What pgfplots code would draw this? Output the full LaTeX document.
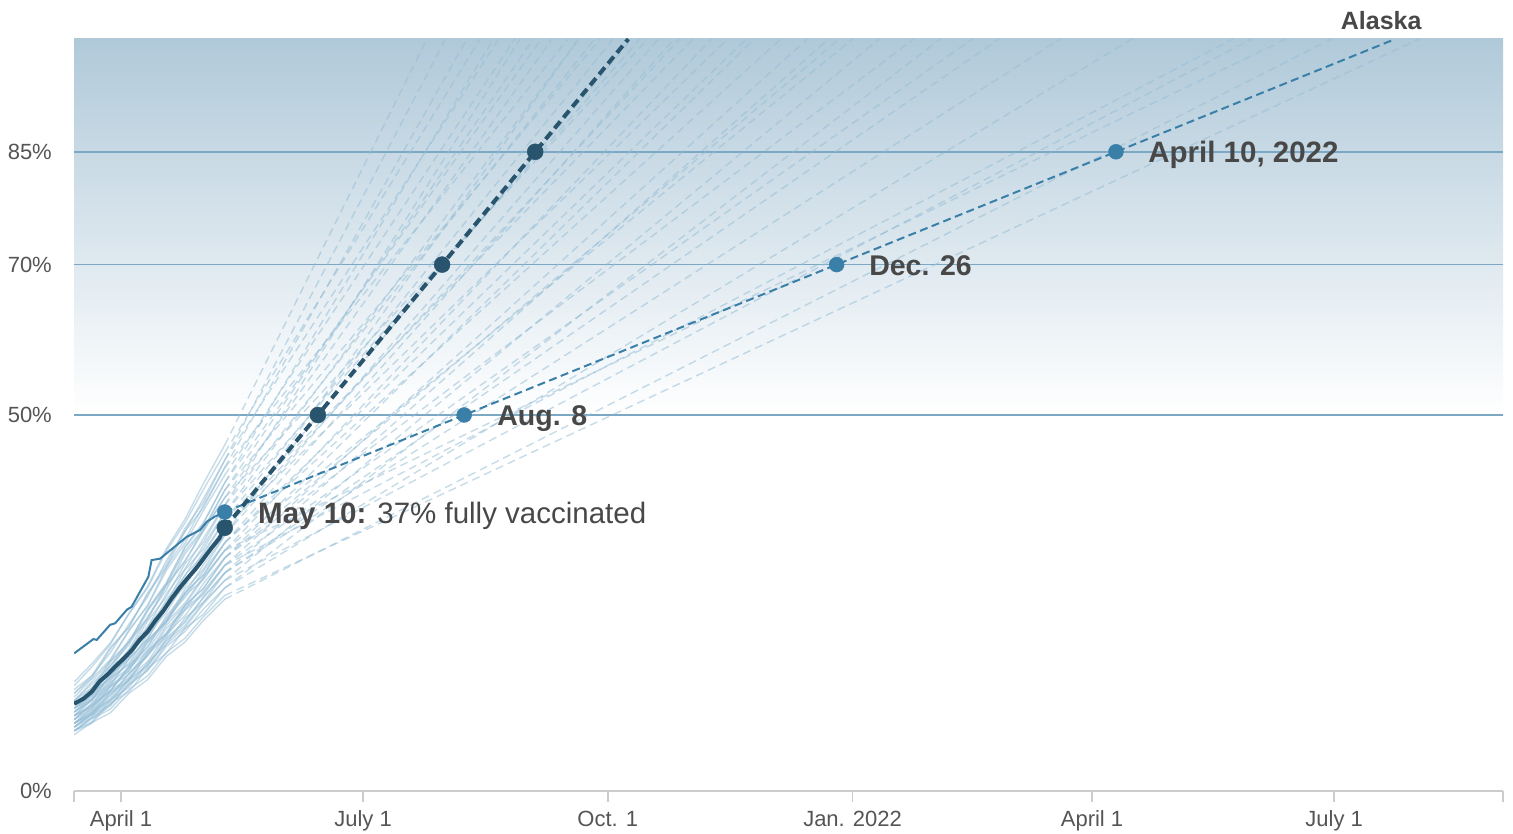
\documentclass[border=0pt]{standalone}
\usepackage{pgfplots}
\pgfplotsset{compat=1.18}
\usepackage{fontspec}
\setmainfont{Liberation Sans}
\definecolor{histc}{RGB}{150,190,214}
\definecolor{projc}{RGB}{150,190,214}
\definecolor{usc}{RGB}{40,84,109}
\definecolor{akc}{RGB}{58,127,168}
\definecolor{gridc}{RGB}{125,168,196}
\definecolor{bgtop}{RGB}{176,201,217}
\definecolor{axisc}{RGB}{204,204,204}
\definecolor{textc}{RGB}{72,72,72}
\definecolor{tickc}{RGB}{85,85,85}
\pgfplotsset{
 hist/.style={no marks, line width=1.4bp, color=histc, opacity=0.55},
 proj/.style={no marks, line width=1.4bp, color=projc, opacity=0.55, dash pattern=on 8bp off 5bp},
}
\begin{document}
\begin{tikzpicture}
\begin{axis}[
 scale only axis, width=1429bp, height=752bp,
 xmin=72.33, xmax=609.5, ymin=0, ymax=100,
 clip mode=individual,
 axis x line*=bottom, axis y line*=left,
 y axis line style={draw=none},
 x axis line style={draw=axisc, line width=2bp},
 tick align=outside, major tick length=11bp,
 xtick={72.33,90,181,273,365,455,546,609.5},
 xticklabels={,April 1,July 1,Oct. 1,Jan. 2022,April 1,July 1,},
 xtick style={draw=axisc, line width=1.5bp},
 ytick={0,50,70,85}, yticklabels={0\%,50\%,70\%,85\%},
 ytick style={draw=none},
 tick label style={font=\fontsize{22bp}{26bp}\selectfont, text=tickc},
 yticklabel style={anchor=east, inner sep=0pt, xshift=-11bp},
 xticklabel style={anchor=base, inner sep=0pt, yshift=-25bp},
]
\path[top color=bgtop, bottom color=white] (axis cs:72.33,50) rectangle (axis cs:609.5,100);
\coordinate (ll) at (rel axis cs:0,0);
% grid lines
\addplot[gridc, line width=1.5bp, no marks] coordinates {(72.33,50) (609.5,50)};
\addplot[gridc, line width=1.5bp, no marks] coordinates {(72.33,70) (609.5,70)};
\addplot[gridc, line width=1.5bp, no marks] coordinates {(72.33,85) (609.5,85)};
% state histories
\addplot[hist] coordinates {(72.4,14)(79,16.5)(86,19.5)(93,23.6)(100,27.2)(107,32.2)(114,36.1)(121,40.9)(129,46)};
\addplot[hist] coordinates {(72.4,13)(79,15.0)(86,18.9)(93,21.8)(100,26.3)(107,30.1)(114,34.9)(121,38.4)(129,44)};
\addplot[hist] coordinates {(72.4,12)(79,14.5)(86,17.3)(93,21.3)(100,24.7)(107,29.7)(114,33.4)(121,38.0)(129,43)};
\addplot[hist] coordinates {(72.4,14.5)(79,16.9)(86,19.7)(93,23.6)(100,27.0)(107,31.9)(114,35.6)(121,40.1)(129,45)};
\addplot[hist] coordinates {(72.4,11)(79,12.8)(86,16.7)(93,19.4)(100,23.9)(107,27.5)(114,32.3)(121,35.6)(129,41)};
\addplot[hist] coordinates {(72.4,12.5)(79,14.9)(86,17.5)(93,21.4)(100,24.6)(107,29.3)(114,32.9)(121,37.3)(129,42)};
\addplot[hist] coordinates {(72.4,10.5)(79,12.3)(86,16.1)(93,18.8)(100,23.2)(107,26.7)(114,31.5)(121,34.7)(129,40)};
\addplot[hist] coordinates {(72.4,11.5)(79,13.7)(86,16.2)(93,19.8)(100,22.8)(107,27.2)(114,30.5)(121,34.6)(129,39)};
\addplot[hist] coordinates {(72.4,13.5)(79,15.3)(86,19.1)(93,21.8)(100,26.2)(107,29.7)(114,34.5)(121,37.7)(129,43)};
\addplot[hist] coordinates {(72.4,10)(79,12.2)(86,14.6)(93,18.1)(100,21.0)(107,25.4)(114,28.6)(121,32.7)(129,37)};
\addplot[hist] coordinates {(72.4,11)(79,12.6)(86,16.2)(93,18.5)(100,22.6)(107,25.8)(114,30.2)(121,33.1)(129,38)};
\addplot[hist] coordinates {(72.4,9.5)(79,11.7)(86,14.0)(93,17.5)(100,20.3)(107,24.6)(114,27.8)(121,31.8)(129,36)};
\addplot[hist] coordinates {(72.4,10)(79,11.5)(86,14.8)(93,17.0)(100,20.8)(107,23.7)(114,27.8)(121,30.5)(129,35)};
\addplot[hist] coordinates {(72.4,12)(79,14.2)(86,16.6)(93,20.1)(100,23.0)(107,27.4)(114,30.6)(121,34.7)(129,39)};
\addplot[hist] coordinates {(72.4,9)(79,10.5)(86,13.8)(93,16.0)(100,19.8)(107,22.7)(114,26.8)(121,29.5)(129,34)};
\addplot[hist] coordinates {(72.4,9.5)(79,11.4)(86,13.4)(93,16.6)(100,19.1)(107,23.0)(114,25.7)(121,29.3)(129,33)};
\addplot[hist] coordinates {(72.4,10.5)(79,12.0)(86,15.4)(93,17.6)(100,21.5)(107,24.5)(114,28.7)(121,31.4)(129,36)};
\addplot[hist] coordinates {(72.4,8.5)(79,10.4)(86,12.4)(93,15.6)(100,18.1)(107,22.0)(114,24.7)(121,28.3)(129,32)};
\addplot[hist] coordinates {(72.4,10)(79,12.1)(86,14.2)(93,17.6)(100,20.2)(107,24.3)(114,27.2)(121,31.1)(129,35)};
\addplot[hist] coordinates {(72.4,9)(79,10.8)(86,12.7)(93,15.7)(100,17.9)(107,21.6)(114,24.1)(121,27.6)(129,31)};
\addplot[hist] coordinates {(72.4,10)(79,11.3)(86,14.4)(93,16.4)(100,20.0)(107,22.6)(114,26.4)(121,28.8)(129,33)};
\addplot[hist] coordinates {(72.4,8.5)(79,10.3)(86,12.1)(93,15.0)(100,17.2)(107,20.8)(114,23.3)(121,26.6)(129,30)};
\addplot[hist] coordinates {(72.4,8)(79,9.2)(86,12.1)(93,13.8)(100,17.1)(107,19.5)(114,23.0)(121,25.1)(129,29)};
\addplot[hist] coordinates {(72.4,9.5)(79,11.4)(86,13.3)(93,16.3)(100,18.7)(107,22.4)(114,25.0)(121,28.5)(129,32)};
\addplot[hist] coordinates {(72.4,8)(79,9.7)(86,11.3)(93,14.1)(100,16.1)(107,19.5)(114,21.7)(121,24.9)(129,28)};
\addplot[hist] coordinates {(72.4,9)(79,10.2)(86,13.3)(93,15.1)(100,18.5)(107,21.0)(114,24.7)(121,27.0)(129,31)};
\addplot[hist] coordinates {(72.4,8.5)(79,10.1)(86,11.5)(93,14.2)(100,16.0)(107,19.2)(114,21.2)(121,24.2)(129,27)};
\addplot[hist] coordinates {(72.4,9)(79,10.2)(86,13.1)(93,14.8)(100,18.1)(107,20.5)(114,24.0)(121,26.1)(129,30)};
\addplot[hist] coordinates {(72.4,8.5)(79,10.2)(86,11.9)(93,14.7)(100,16.8)(107,20.3)(114,22.6)(121,25.8)(129,29)};
\addplot[hist] coordinates {(72.4,10)(79,11.1)(86,13.9)(93,15.5)(100,18.7)(107,20.9)(114,24.3)(121,26.3)(129,30)};
\addplot[hist] coordinates {(72.4,9)(79,10.6)(86,12.1)(93,14.8)(100,16.7)(107,19.9)(114,22.0)(121,25.1)(129,28)};
\addplot[hist] coordinates {(72.4,11)(79,12.2)(86,15.1)(93,16.8)(100,20.1)(107,22.5)(114,26.0)(121,28.1)(129,32)};
\addplot[hist] coordinates {(72.4,7.5)(79,9.1)(86,10.4)(93,13.0)(100,14.8)(107,17.9)(114,19.8)(121,22.7)(129,25.5)};
\addplot[hist] coordinates {(72.4,8)(79,9.6)(86,10.9)(93,13.5)(100,15.3)(107,18.4)(114,20.3)(121,23.2)(129,26)};
\addplot[hist] coordinates {(72.4,8)(79,9.0)(86,11.7)(93,13.2)(100,16.3)(107,18.3)(114,21.6)(121,23.5)(129,27)};
\addplot[hist] coordinates {(72.4,13)(79,15.3)(86,18.4)(93,22.2)(100,25.8)(107,30.6)(114,34.5)(121,38.9)(129,44)};
\addplot[hist] coordinates {(72.4,11.5)(79,13.3)(86,17.1)(93,19.8)(100,24.2)(107,27.7)(114,32.5)(121,35.7)(129,41)};
\addplot[hist] coordinates {(72.4,10.5)(79,12.7)(86,15.2)(93,18.8)(100,21.8)(107,26.2)(114,29.5)(121,33.6)(129,38)};
\addplot[hist] coordinates {(72.4,12)(79,13.7)(86,17.3)(93,19.8)(100,24.1)(107,27.4)(114,31.9)(121,34.9)(129,40)};
\addplot[hist] coordinates {(72.4,10.5)(79,12.1)(86,15.6)(93,17.9)(100,21.9)(107,25.0)(114,29.4)(121,32.2)(129,37)};
\addplot[hist] coordinates {(72.4,9)(79,11.1)(86,13.2)(93,16.6)(100,19.2)(107,23.3)(114,26.2)(121,30.1)(129,34)};
\addplot[hist] coordinates {(72.4,11)(79,13.0)(86,15.0)(93,18.3)(100,20.8)(107,24.7)(114,27.5)(121,31.2)(129,35)};
\addplot[hist] coordinates {(72.4,9.5)(79,10.9)(86,14.0)(93,16.0)(100,19.7)(107,22.4)(114,26.3)(121,28.7)(129,33)};
\addplot[hist] coordinates {(72.4,8.5)(79,9.8)(86,12.9)(93,14.7)(100,18.3)(107,20.8)(114,24.6)(121,26.9)(129,31)};
\addplot[hist] coordinates {(72.4,8)(79,9.8)(86,11.5)(93,14.4)(100,16.5)(107,20.1)(114,22.4)(121,25.7)(129,29)};
% state projections
\addplot[proj] coordinates {(129,46)(205,100)};
\addplot[proj] coordinates {(129,44)(212,100)};
\addplot[proj] coordinates {(129,43)(220,100)};
\addplot[proj] coordinates {(129,45)(225,100)};
\addplot[proj] coordinates {(129,41)(230,100)};
\addplot[proj] coordinates {(129,42)(238,100)};
\addplot[proj] coordinates {(129,40)(245,100)};
\addplot[proj] coordinates {(129,39)(252,100)};
\addplot[proj] coordinates {(129,43)(258,100)};
\addplot[proj] coordinates {(129,37)(262,100)};
\addplot[proj] coordinates {(129,38)(268,100)};
\addplot[proj] coordinates {(129,36)(275,100)};
\addplot[proj] coordinates {(129,35)(282,100)};
\addplot[proj] coordinates {(129,39)(288,100)};
\addplot[proj] coordinates {(129,34)(292,100)};
\addplot[proj] coordinates {(129,33)(298,100)};
\addplot[proj] coordinates {(129,36)(305,100)};
\addplot[proj] coordinates {(129,32)(312,100)};
\addplot[proj] coordinates {(129,35)(318,100)};
\addplot[proj] coordinates {(129,31)(328,100)};
\addplot[proj] coordinates {(129,33)(338,100)};
\addplot[proj] coordinates {(129,30)(348,100)};
\addplot[proj] coordinates {(129,29)(356,100)};
\addplot[proj] coordinates {(129,32)(365,100)};
\addplot[proj] coordinates {(129,28)(375,100)};
\addplot[proj] coordinates {(129,31)(388,100)};
\addplot[proj] coordinates {(129,27)(398,100)};
\addplot[proj] coordinates {(129,30)(410,100)};
\addplot[proj] coordinates {(129,29)(443,100)};
\addplot[proj] coordinates {(129,30)(508,100)};
\addplot[proj] coordinates {(129,28)(515,100)};
\addplot[proj] coordinates {(129,32)(528,100)};
\addplot[proj] coordinates {(129,25.5)(545,100)};
\addplot[proj] coordinates {(129,26)(578,100)};
\addplot[proj] coordinates {(129,27)(470,100)};
\addplot[proj] coordinates {(129,44)(232,100)};
\addplot[proj] coordinates {(129,41)(248,100)};
\addplot[proj] coordinates {(129,38)(240,100)};
\addplot[proj] coordinates {(129,40)(270,100)};
\addplot[proj] coordinates {(129,37)(285,100)};
\addplot[proj] coordinates {(129,34)(262,100)};
\addplot[proj] coordinates {(129,35)(300,100)};
\addplot[proj] coordinates {(129,33)(325,100)};
\addplot[proj] coordinates {(129,31)(360,100)};
\addplot[proj] coordinates {(129,29)(420,100)};
% Alaska
\addplot[akc, line width=2bp, no marks] coordinates {(72.4,18.3)(79.6,20.2)(80.9,20.1)(85.9,22.1)(87.8,22.3)(92.2,24.1)(94.0,24.5)(100.3,28.5)(101.5,30.7)(104.7,30.9)(114.7,33.8)(119.7,34.7)(122.2,35.8)(125.3,36.5)(129,37.1)};
\addplot[akc, line width=2bp, no marks, dash pattern=on 8bp off 4.5bp] coordinates {(129,37.1)(219,50)(359,70)(464,85)(569,100)};
% United States
\addplot[usc, line width=4bp, no marks] coordinates {(72.4,11.6)(76,12.3)(79,13.2)(82,14.6)(85,15.5)(88,16.6)(91,17.6)(94,18.7)(97,20.1)(100,21.2)(103,22.7)(106,24.0)(109,25.6)(112,27.0)(115,28.3)(118,29.5)(121,30.9)(124,32.3)(127,33.6)(129,35.0)};
\addplot[usc, line width=4bp, no marks, dash pattern=on 9bp off 5bp] coordinates {(129,35)(164,50)(210.7,70)(245.7,85)(280.7,100)};
% dots
\addplot[only marks, mark=*, mark size=7.5bp, akc, mark options={draw=none, fill=akc}] coordinates {(129,37.1)(219,50)(359,70)(464,85)};
\addplot[only marks, mark=*, mark size=8bp, usc, mark options={draw=none, fill=usc}] coordinates {(129,35)(164,50)(210.7,70)(245.7,85)};
% labels
\node[anchor=base west, inner sep=0pt, yshift=-10.5bp, text=textc, font=\fontsize{29.5bp}{33bp}\selectfont] at (axis cs:141.5,37) {\textbf{May 10:} 37\% fully vaccinated};
\node[anchor=base west, inner sep=0pt, yshift=-10.5bp, text=textc, font=\fontsize{28.5bp}{32bp}\selectfont\bfseries] at (axis cs:231.4,50) {Aug. 8};
\node[anchor=base west, inner sep=0pt, yshift=-10.5bp, text=textc, font=\fontsize{28.5bp}{32bp}\selectfont\bfseries] at (axis cs:371.2,70) {Dec. 26};
\node[anchor=base west, inner sep=0pt, yshift=-10.5bp, text=textc, font=\fontsize{29.5bp}{33bp}\selectfont\bfseries] at (axis cs:476.1,85) {April 10, 2022};
\node[anchor=base, inner sep=0pt, text=textc, font=\fontsize{25bp}{30bp}\selectfont\bfseries] at (axis cs:563.7,101.3) {Alaska};
\end{axis}
\pgfresetboundingbox
\path (ll) ++(-74bp,-43bp) rectangle ++(1513bp,834bp);
\end{tikzpicture}
\end{document}
